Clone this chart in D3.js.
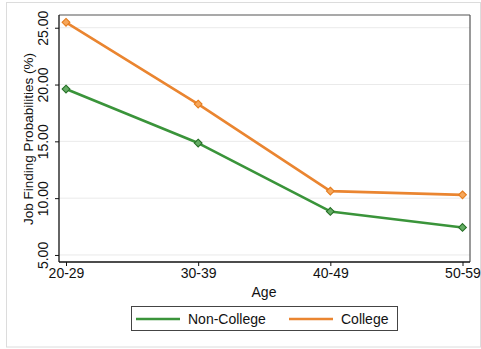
<!DOCTYPE html>
<html><head><meta charset="utf-8">
<script src="https://cdn.jsdelivr.net/npm/d3@7"></script>
<style>body{margin:0;background:#fff;}svg{display:block;font-family:"Liberation Sans",Arial,Helvetica,sans-serif;}</style>
</head><body>
<svg id="c" width="481" height="349"></svg>
<script>
const categories = ["20-29","30-39","40-49","50-59"];
const nonCollege = [19.6, 14.85, 8.83, 7.42];
const college = [25.48, 18.28, 10.62, 10.29];
const yTicks = [5, 10, 15, 20, 25];
const seriesNames = ["Non-College","College"];

const svg = d3.select("#c");
const L = 59, R = 470, T = 15, B = 262;

// outer frame
svg.append("rect").attr("x",6.5).attr("y",2.5).attr("width",474).attr("height",344.5)
  .attr("fill","none").attr("stroke","#dcdcdc").attr("stroke-width",1);

const x = d3.scalePoint().domain(categories).range([66, 462.5]);
const y = d3.scaleLinear().domain([4.38, 26.12]).range([B, T]);

// gridlines
svg.append("g").selectAll("line").data(yTicks).join("line")
  .attr("x1",L).attr("x2",R).attr("y1",d=>y(d)).attr("y2",d=>y(d))
  .attr("stroke","#eaeaea").attr("stroke-width",1);

// frame top/right
svg.append("line").attr("x1",L).attr("x2",R).attr("y1",T).attr("y2",T).attr("stroke","#555").attr("stroke-width",1.2);
svg.append("line").attr("x1",R).attr("x2",R).attr("y1",T).attr("y2",B).attr("stroke","#555").attr("stroke-width",1.2);

// axes
const yAxis = d3.axisLeft(y).tickValues(yTicks).tickFormat(d3.format(".2f")).tickSize(4).tickPadding(3);
const gy = svg.append("g").attr("transform",`translate(${L},0)`).call(yAxis);
gy.select(".domain").attr("stroke","#111").attr("stroke-width",1.3).attr("d",`M0,${T}V${B}`);
gy.selectAll(".tick line").attr("stroke","#111");
gy.selectAll(".tick text").attr("transform","rotate(-90)").attr("x",0).attr("y",-11)
  .attr("dy",0).attr("text-anchor","middle").attr("font-size",14).attr("fill","#111")
  .attr("font-family","Liberation Sans, Arial, sans-serif");

const xAxis = d3.axisBottom(x).tickSize(4).tickPadding(2);
const gx = svg.append("g").attr("transform",`translate(0,${B})`).call(xAxis);
gx.select(".domain").attr("stroke","#111").attr("stroke-width",1.3).attr("d",`M${L},0H${R}`);
gx.selectAll(".tick line").attr("stroke","#111");
gx.selectAll(".tick text").attr("font-size",14).attr("fill","#111")
  .attr("font-family","Liberation Sans, Arial, sans-serif");

// axis titles
svg.append("text").attr("x",264).attr("y",297).attr("text-anchor","middle").attr("font-size",14).attr("fill","#111").text("Age");
svg.append("text").attr("transform",`translate(33,139) rotate(-90)`).attr("text-anchor","middle")
  .attr("font-size",13.5).attr("fill","#111").text("Job Finding Probabilities (%)");

// series
const series = [
  {name:seriesNames[0], values:nonCollege, line:"#3a943a", fill:"#64ad64", stroke:"#276f27"},
  {name:seriesNames[1], values:college, line:"#ea8530", fill:"#f6a65a", stroke:"#e57d1f"}
];
const lineGen = d3.line().x((d,i)=>x(categories[i])).y(d=>y(d));
series.forEach(s=>{
  svg.append("path").datum(s.values).attr("d",lineGen).attr("fill","none")
    .attr("stroke",s.line).attr("stroke-width",2.6).attr("stroke-linejoin","round");
  svg.append("g").selectAll("path").data(s.values).join("path")
    .attr("d",d3.symbol(d3.symbolDiamond2,38)())
    .attr("transform",(d,i)=>`translate(${x(categories[i])},${y(d)})`)
    .attr("fill",s.fill).attr("stroke",s.stroke).attr("stroke-width",1.1);
});

// legend
const lg = svg.append("g");
lg.append("rect").attr("x",131.5).attr("y",306.5).attr("width",266).attr("height",24)
  .attr("fill","#fff").attr("stroke","#444").attr("stroke-width",1);
const legX = [[136,180,188],[289,333,341]];
series.forEach((s,i)=>{
  lg.append("line").attr("x1",legX[i][0]).attr("x2",legX[i][1]).attr("y1",319).attr("y2",319)
    .attr("stroke",s.line).attr("stroke-width",2.6);
  lg.append("text").attr("x",legX[i][2]).attr("y",324).attr("font-size",14).attr("fill","#111").text(s.name);
});
</script>
</body></html>
